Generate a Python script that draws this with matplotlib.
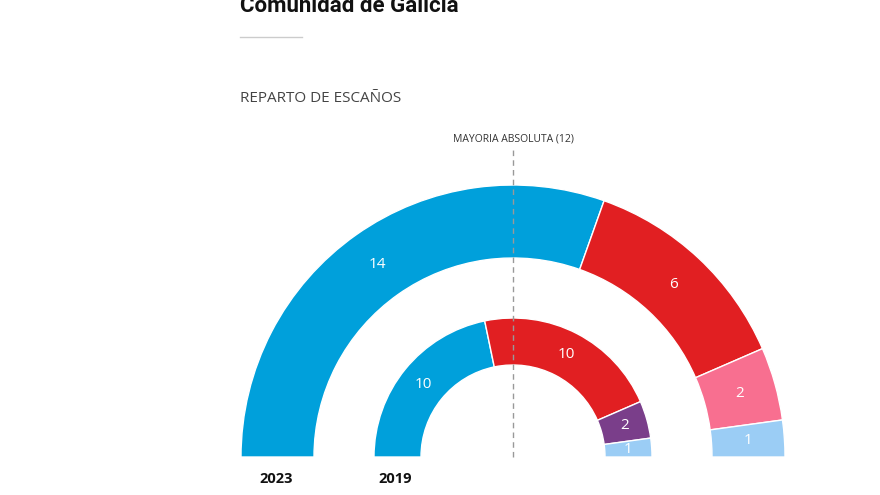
import matplotlib
matplotlib.use("Agg")
import matplotlib.pyplot as plt
from matplotlib.patches import Wedge
import numpy as np

plt.rcParams['font.family'] = ['Open Sans', 'DejaVu Sans']

# Data
years = ["2023", "2019"]
seats_2023 = [14, 6, 2, 1]
colors_2023 = ["#00A0DB", "#E11F22", "#F86F90", "#9BCDF5"]
seats_2019 = [10, 10, 2, 1]
colors_2019 = ["#00A0DB", "#E11F22", "#7A3E8A", "#9BCDF5"]
majority = 12
title = "Comunidad de Galicia"
subtitle = "REPARTO DE ESCAÑOS"
majority_label = f"MAYORIA ABSOLUTA ({majority})"

W, H = 880, 495
fig = plt.figure(figsize=(W / 100, H / 100), dpi=100)
ax = fig.add_axes([0, 0, 1, 1])
ax.set_xlim(0, W)
ax.set_ylim(0, H)
ax.axis("off")

cx, cy = 513, H - 457

def draw_ring(values, colors, r_out, width):
    total = sum(values)
    start = 180.0
    for v, c in zip(values, colors):
        span = 180.0 * v / total
        end = start - span
        ax.add_patch(Wedge((cx, cy), r_out, end, start, width=width,
                           facecolor=c, edgecolor="white", linewidth=1.0))
        mid = np.deg2rad((start + end) / 2)
        rm = r_out - width / 2
        ax.text(cx + rm * np.cos(mid), cy + rm * np.sin(mid), str(v),
                color="white", fontsize=11, ha="center", va="center")
        start = end

draw_ring(seats_2023, colors_2023, 272, 73)
draw_ring(seats_2019, colors_2019, 139, 47)

# majority line
ax.plot([cx, cx], [cy, H - 150], color="#999999", linestyle=(0, (4, 3)), linewidth=1)
ax.text(cx, H - 139, majority_label, fontsize=7.5, color="#333333",
        ha="center", va="center")

# year labels
ax.text(276, H - 479, years[0], fontsize=10.5, fontweight="bold",
        ha="center", va="center", color="#111111")
ax.text(395, H - 479, years[1], fontsize=10.5, fontweight="bold",
        ha="center", va="center", color="#111111")

# title (cut at top)
ax.text(240, H - 12, title, fontsize=16, fontweight="bold",
        family=["Roboto", "DejaVu Sans"],
        ha="left", va="baseline", color="#111111")
ax.plot([240, 302], [H - 37, H - 37], color="#cccccc", linewidth=1)
ax.text(240, H - 99, subtitle, fontsize=11, color="#444444",
        ha="left", va="center")

fig.savefig("out.png", dpi=100, facecolor="white")
